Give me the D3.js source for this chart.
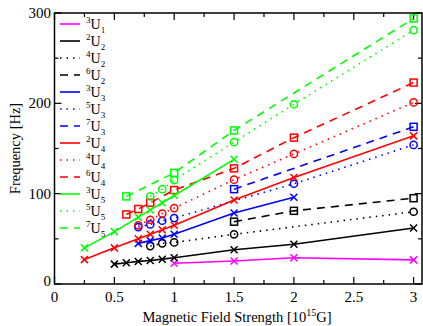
<!DOCTYPE html>
<html>
<head>
<meta charset="utf-8">
<script src="https://cdn.jsdelivr.net/npm/d3@7"></script>
<style>
  body { margin: 0; background: #fff; }
  svg { display: block; }
  svg text { font-family: 'Liberation Serif', 'DejaVu Serif', 'Times New Roman', serif; }
</style>
</head>
<body>
<div id="chart"></div>
<script>
// Werte (B in 10^15 G, f in Hz)
let b3U1 = [1, 1.5, 2, 3];
let f3U1 = [23, 25.5, 29, 26.7];
let b2U2 = [0.5, 0.6, 0.7, 0.8, 0.9, 1, 1.5, 2, 3];
let f2U2 = [22, 23.5, 25, 26, 27.5, 29, 38, 44, 62];
let b4U2 = [0.8, 0.9, 1, 1.5, 3];
let f4U2 = [42, 45, 46, 55, 80];
let b6U2 = [1.5, 2, 3];
let f6U2 = [69, 81, 95];
let b3U3 = [0.7, 0.8, 0.9, 1, 1.5, 2];
let f3U3 = [45, 48, 51, 55, 78.5, 96];
let b5U3 = [0.7, 0.8, 0.9, 1, 2, 3];
let f5U3 = [63, 66, 70, 73, 111, 154];
let b7U3 = [1.5, 3];
let f7U3 = [105, 174];
let b2U4 = [0.25, 0.5, 0.7, 0.8, 0.9, 1, 1.5, 2, 3];
let f2U4 = [27, 40, 50, 55, 60, 65, 93, 118, 164];
let b4U4 = [0.7, 0.8, 0.9, 1, 1.5, 2, 3];
let f4U4 = [65, 71, 78, 84, 115.5, 144, 201];
let b6U4 = [0.6, 0.7, 0.8, 1, 1.5, 2, 3];
let f6U4 = [77, 83, 90, 104, 128, 162, 223];
let b3U5 = [0.25, 0.5, 0.7, 0.8, 0.9, 1, 1.5];
let f3U5 = [40, 58, 74, 82, 90, 98, 138];
let b5U5 = [0.8, 0.9, 1, 1.5, 2, 3];
let f5U5 = [97, 105, 115, 157, 199, 281];
let b7U5 = [0.6, 1, 1.5, 3];
let f7U5 = [97, 123, 170, 294];

let xTicks = [0, 0.5, 1, 1.5, 2, 2.5, 3];
let xTickLabels = ["0", "0.5", "1", "1.5", "2", "2.5", "3"];
let yTicks = [0, 100, 200, 300];

// Serien: [hoch, tief, B, f]
let serien = [
  ["3", "1", b3U1, f3U1], ["2", "2", b2U2, f2U2], ["4", "2", b4U2, f4U2], ["6", "2", b6U2, f6U2],
  ["3", "3", b3U3, f3U3], ["5", "3", b5U3, f5U3], ["7", "3", b7U3, f7U3],
  ["2", "4", b2U4, f2U4], ["4", "4", b4U4, f4U4], ["6", "4", b6U4, f6U4],
  ["3", "5", b3U5, f3U5], ["5", "5", b5U5, f5U5], ["7", "5", b7U5, f7U5]
];

let farben = { "1": "#ff00ff", "2": "#000000", "3": "#0000ff", "4": "#ff0000", "5": "#00ff00" };
// Linienart und Marker nach Spin-Multiplizität
function stil(hoch) {
  if (hoch == "2" || hoch == "3") return { dash: null, marker: "x" };
  if (hoch == "4" || hoch == "5") return { dash: "1.5,5", marker: "o" };
  return { dash: "8,6", marker: "s" };
}

let width = 423, height = 326;
let pLeft = 54.5, pRight = 422, pTop = 13, pBottom = 284;

let x = d3.scaleLinear().domain([0, 3.07]).range([pLeft, pRight]);
let y = d3.scaleLinear().domain([0, 300]).range([pBottom, pTop]);

let svg = d3.select("#chart").append("svg")
  .attr("width", width)
  .attr("height", height);

// Rahmen
svg.append("rect")
  .attr("x", pLeft).attr("y", pTop)
  .attr("width", pRight - pLeft).attr("height", pBottom - pTop)
  .attr("fill", "none").attr("stroke", "#000").attr("stroke-width", 1.5);

// Ticks innen
let ax = svg.append("g").attr("stroke", "#000").attr("stroke-width", 1.2);
d3.range(0, 3.01, 0.25).forEach(function(v) {
  let lang = Math.abs(v * 2 - Math.round(v * 2)) < 1e-6 ? 7 : 4;
  ax.append("line").attr("x1", x(v)).attr("x2", x(v)).attr("y1", pBottom).attr("y2", pBottom - lang);
  ax.append("line").attr("x1", x(v)).attr("x2", x(v)).attr("y1", pTop).attr("y2", pTop + lang);
});
d3.range(0, 301, 50).forEach(function(v) {
  let lang = v % 100 == 0 ? 7 : 4;
  ax.append("line").attr("x1", pLeft).attr("x2", pLeft + lang).attr("y1", y(v)).attr("y2", y(v));
  ax.append("line").attr("x1", pRight).attr("x2", pRight - lang).attr("y1", y(v)).attr("y2", y(v));
});

// Tick-Beschriftung
svg.selectAll(".xl").data(xTicks).enter().append("text")
  .attr("x", function(d) { return x(d); })
  .attr("y", 302)
  .attr("text-anchor", "middle")
  .attr("font-size", 15)
  .text(function(d, i) { return xTickLabels[i]; });

svg.selectAll(".yl").data(yTicks).enter().append("text")
  .attr("x", 51)
  .attr("y", function(d) { return y(d) + (d == 0 ? 2 : 5); })
  .attr("text-anchor", "end")
  .attr("font-size", 15)
  .text(function(d) { return d; });

// Achsentitel
let xt = svg.append("text")
  .attr("x", 237).attr("y", 322)
  .attr("text-anchor", "middle")
  .attr("font-size", 14.5);
xt.append("tspan").text("Magnetic Field Strength [10");
xt.append("tspan").attr("dy", -6).attr("font-size", 10).text("15");
xt.append("tspan").attr("dy", 6).text("G]");

svg.append("text")
  .attr("transform", "translate(20," + ((pTop + pBottom) / 2) + ") rotate(-90)")
  .attr("text-anchor", "middle")
  .attr("font-size", 14.5)
  .text("Frequency [Hz]");

let line = d3.line()
  .x(function(d) { return x(d[0]); })
  .y(function(d) { return y(d[1]); });

let plot = svg.append("g");

serien.forEach(function(s) {
  let farbe = farben[s[1]];
  let st = stil(s[0]);
  let punkte = s[2].map(function(b, i) { return [b, s[3][i]]; });

  plot.append("path")
    .datum(punkte)
    .attr("d", line)
    .attr("fill", "none")
    .attr("stroke", farbe)
    .attr("stroke-width", 1.6)
    .attr("stroke-dasharray", st.dash);

  let m = plot.selectAll(null).data(punkte).enter().append("g")
    .attr("transform", function(d) { return "translate(" + x(d[0]) + "," + y(d[1]) + ")"; })
    .attr("stroke", farbe)
    .attr("stroke-width", 1.5)
    .attr("fill", "none");
  if (st.marker == "x") {
    m.append("path").attr("d", "M-3.5,-3.5L3.5,3.5M-3.5,3.5L3.5,-3.5");
  } else if (st.marker == "o") {
    m.append("circle").attr("r", 3.6);
  } else {
    m.append("rect").attr("x", -3.5).attr("y", -3.5).attr("width", 7).attr("height", 7);
  }
});

// Legende
let leg = svg.append("g");
serien.forEach(function(s, i) {
  let ly = 24 + i * 17;
  let st = stil(s[0]);
  leg.append("line")
    .attr("x1", 60).attr("x2", 80).attr("y1", ly).attr("y2", ly)
    .attr("stroke", farben[s[1]])
    .attr("stroke-width", 1.6)
    .attr("stroke-dasharray", st.dash);
  let t = leg.append("text")
    .attr("x", 86).attr("y", ly + 5).attr("font-size", 14);
  t.append("tspan").attr("dy", -6).attr("font-size", 9).text(s[0]);
  t.append("tspan").attr("dy", 6).text("U");
  t.append("tspan").attr("dy", 4).attr("font-size", 9).text(s[1]);
});
</script>
</body>
</html>
